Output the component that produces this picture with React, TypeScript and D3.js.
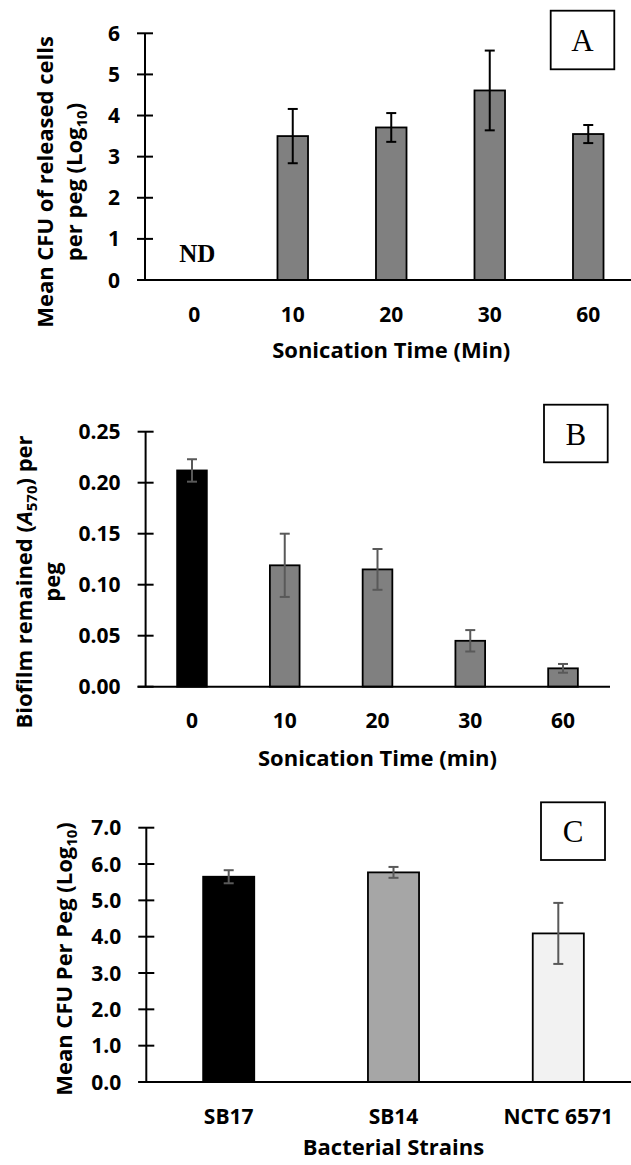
import * as d3 from "d3";
import { useRef, useEffect } from "react";

// panel A - released cells
const CAT_A = ["0", "10", "20", "30", "60"];
const MEAN_A = [null, 3.5, 3.71, 4.61, 3.55];
const ERR_A = [null, 0.66, 0.35, 0.97, 0.22];
const TICKS_A = [0, 1, 2, 3, 4, 5, 6];

// panel B - biofilm remained
const CAT_B = ["0", "10", "20", "30", "60"];
const MEAN_B = [0.212, 0.119, 0.115, 0.045, 0.018];
const ERR_B = [0.011, 0.031, 0.02, 0.0105, 0.0043];
const TICKS_B = [0, 0.05, 0.1, 0.15, 0.2, 0.25];

// panel C - strains
const CAT_C = ["SB17", "SB14", "NCTC 6571"];
const MEAN_C = [5.65, 5.77, 4.09];
const ERR_C = [0.18, 0.15, 0.84];
const TICKS_C = [0, 1, 2, 3, 4, 5, 6, 7];

const FILL_A = ["#808080", "#808080", "#808080", "#808080", "#808080"];
const FILL_B = ["#000000", "#808080", "#808080", "#808080", "#808080"];
const FILL_C = ["#000000", "#a6a6a6", "#f2f2f2"];

const SANS = "'Open Sans', sans-serif";
const SERIF = "'Liberation Serif', 'Times New Roman', serif";

function drawPanel(svg, p) {
  const x = d3.scaleBand().domain(p.cats).range(p.xRange)
    .paddingInner(p.pad).paddingOuter(p.pad / 2);
  const y = d3.scaleLinear().domain(p.yDomain).range(p.yRange);
  const g = svg.append("g");
  const x0 = p.xRange[0];
  const bw = x.bandwidth();

  const data = p.cats.map((c, i) => ({ c, v: p.means[i], e: p.errs[i], fill: p.fills[i] }))
    .filter(d => d.v != null);

  g.selectAll("rect.bar").data(data).join("rect")
    .attr("class", "bar")
    .attr("x", d => x(d.c))
    .attr("y", d => y(d.v))
    .attr("width", bw)
    .attr("height", d => y(0) - y(d.v))
    .attr("fill", d => d.fill)
    .attr("stroke", "#000")
    .attr("stroke-width", 1.8);

  // error bars
  const eb = g.selectAll("g.err").data(data).join("g").attr("class", "err")
    .attr("stroke", p.errColor).attr("stroke-width", 2);
  eb.append("line")
    .attr("x1", d => x(d.c) + bw / 2).attr("x2", d => x(d.c) + bw / 2)
    .attr("y1", d => y(d.v + d.e)).attr("y2", d => y(d.v - d.e));
  eb.append("line")
    .attr("x1", d => x(d.c) + bw / 2 - 5).attr("x2", d => x(d.c) + bw / 2 + 5)
    .attr("y1", d => y(d.v + d.e)).attr("y2", d => y(d.v + d.e));
  eb.append("line")
    .attr("x1", d => x(d.c) + bw / 2 - 5).attr("x2", d => x(d.c) + bw / 2 + 5)
    .attr("y1", d => y(d.v - d.e)).attr("y2", d => y(d.v - d.e));

  // y axis
  g.append("line")
    .attr("x1", x0).attr("x2", x0)
    .attr("y1", y(p.yDomain[1])).attr("y2", y(0))
    .attr("stroke", "#000").attr("stroke-width", 2);
  g.selectAll("line.ytick").data(p.ticks).join("line")
    .attr("class", "ytick")
    .attr("x1", x0 - 8).attr("x2", x0 + 8)
    .attr("y1", d => y(d)).attr("y2", d => y(d))
    .attr("stroke", "#000").attr("stroke-width", 2);
  g.selectAll("text.ylab").data(p.ticks).join("text")
    .attr("class", "ylab")
    .attr("x", x0 - 25).attr("y", d => y(d)).attr("dy", "0.36em")
    .attr("text-anchor", "end")
    .style("font-family", SANS).style("font-weight", 700).style("font-size", "21px")
    .text(p.fmt);

  // x axis
  g.append("line")
    .attr("x1", x0 - 8).attr("x2", p.xAxisEnd)
    .attr("y1", y(0)).attr("y2", y(0))
    .attr("stroke", "#000").attr("stroke-width", 2);
  g.selectAll("text.xlab").data(p.cats).join("text")
    .attr("class", "xlab")
    .attr("x", d => x(d) + bw / 2).attr("y", p.xLabelY)
    .attr("text-anchor", "middle")
    .style("font-family", SANS).style("font-weight", 700).style("font-size", "21px")
    .text(d => d);

  g.append("text")
    .attr("x", (p.xRange[0] + p.xRange[1]) / 2).attr("y", p.xTitleY)
    .attr("text-anchor", "middle")
    .style("font-family", SANS).style("font-weight", 700).style("font-size", "22px")
    .text(p.xTitle);

  // y title, rotated, built from pieces with subscripts
  p.yTitle.forEach((line, li) => {
    const t = g.append("text")
      .attr("transform", `translate(${p.yTitleX[li]},${p.yTitleY}) rotate(-90)`)
      .attr("text-anchor", "middle")
      .style("font-family", SANS).style("font-weight", 700).style("font-size", "22px");
    line.forEach(part => {
      const s = t.append("tspan").text(part.t);
      if (part.sub) s.attr("dy", 5).style("font-size", "15px");
      if (part.after) s.attr("dy", -5);
      if (part.italic) s.style("font-style", "italic");
    });
  });

  // letter box
  g.append("rect")
    .attr("x", p.box[0]).attr("y", p.box[1]).attr("width", p.box[2]).attr("height", p.box[3])
    .attr("fill", "#fff").attr("stroke", "#000").attr("stroke-width", 1.8);
  g.append("text")
    .attr("x", p.box[0] + p.box[2] / 2).attr("y", p.box[1] + p.box[3] / 2 + 11)
    .attr("text-anchor", "middle")
    .style("font-family", SERIF).style("font-size", "31px")
    .text(p.letter);

  if (p.nd) {
    g.append("text")
      .attr("x", x(p.cats[0]) + bw / 2 + 3).attr("y", p.ndY)
      .attr("text-anchor", "middle")
      .style("font-family", SERIF).style("font-weight", 700).style("font-size", "25px")
      .text("ND");
  }
}

export default function App() {
  const svgRef = useRef(null);

  useEffect(() => {
    const svg = d3.select(svgRef.current);
    svg.selectAll("*").remove();

    drawPanel(svg, {
      cats: CAT_A, means: MEAN_A, errs: ERR_A, fills: FILL_A, ticks: TICKS_A,
      fmt: d3.format("d"), errColor: "#000",
      xRange: [145, 637.5], pad: 0.69, yDomain: [0, 6], yRange: [280, 33.3],
      xAxisEnd: 631, xLabelY: 321.5, xTitleY: 358, xTitle: "Sonication Time (Min)",
      yTitle: [
        [{ t: "Mean CFU of released cells" }],
        [{ t: "per peg (Log" }, { t: "10", sub: true }, { t: ")", after: true }],
      ],
      yTitleX: [52.5, 81.5], yTitleY: 182,
      box: [550.7, 10.7, 63.6, 58.6], letter: "A",
      nd: true, ndY: 261.5,
    });

    drawPanel(svg, {
      cats: CAT_B, means: MEAN_B, errs: ERR_B, fills: FILL_B, ticks: TICKS_B,
      fmt: d3.format(".2f"), errColor: "#595959",
      xRange: [145.6, 609.4], pad: 0.68, yDomain: [0, 0.25], yRange: [686.7, 431.7],
      xAxisEnd: 610, xLabelY: 728, xTitleY: 766, xTitle: "Sonication Time (min)",
      yTitle: [
        [{ t: "Biofilm remained (" }, { t: "A", italic: true }, { t: "570", sub: true }, { t: ") per", after: true }],
        [{ t: "peg" }],
      ],
      yTitleX: [32.3, 60], yTitleY: 582,
      box: [544, 404.7, 63.7, 57.6], letter: "B",
    });

    drawPanel(svg, {
      cats: CAT_C, means: MEAN_C, errs: ERR_C, fills: FILL_C, ticks: TICKS_C,
      fmt: d3.format(".1f"), errColor: "#595959",
      xRange: [146.3, 640.7], pad: 0.69, yDomain: [0, 7], yRange: [1082, 827.7],
      xAxisEnd: 631, xLabelY: 1124, xTitleY: 1155, xTitle: "Bacterial Strains",
      yTitle: [
        [{ t: "Mean CFU Per Peg (Log" }, { t: "10", sub: true }, { t: ")", after: true }],
      ],
      yTitleX: [72], yTitleY: 959,
      box: [541, 802.3, 64, 57.7], letter: "C",
    });
  }, []);

  return (
    <svg
      ref={svgRef}
      width={631}
      height={1165}
      style={{ position: "absolute", left: 0, top: 0, background: "#fff" }}
    />
  );
}
